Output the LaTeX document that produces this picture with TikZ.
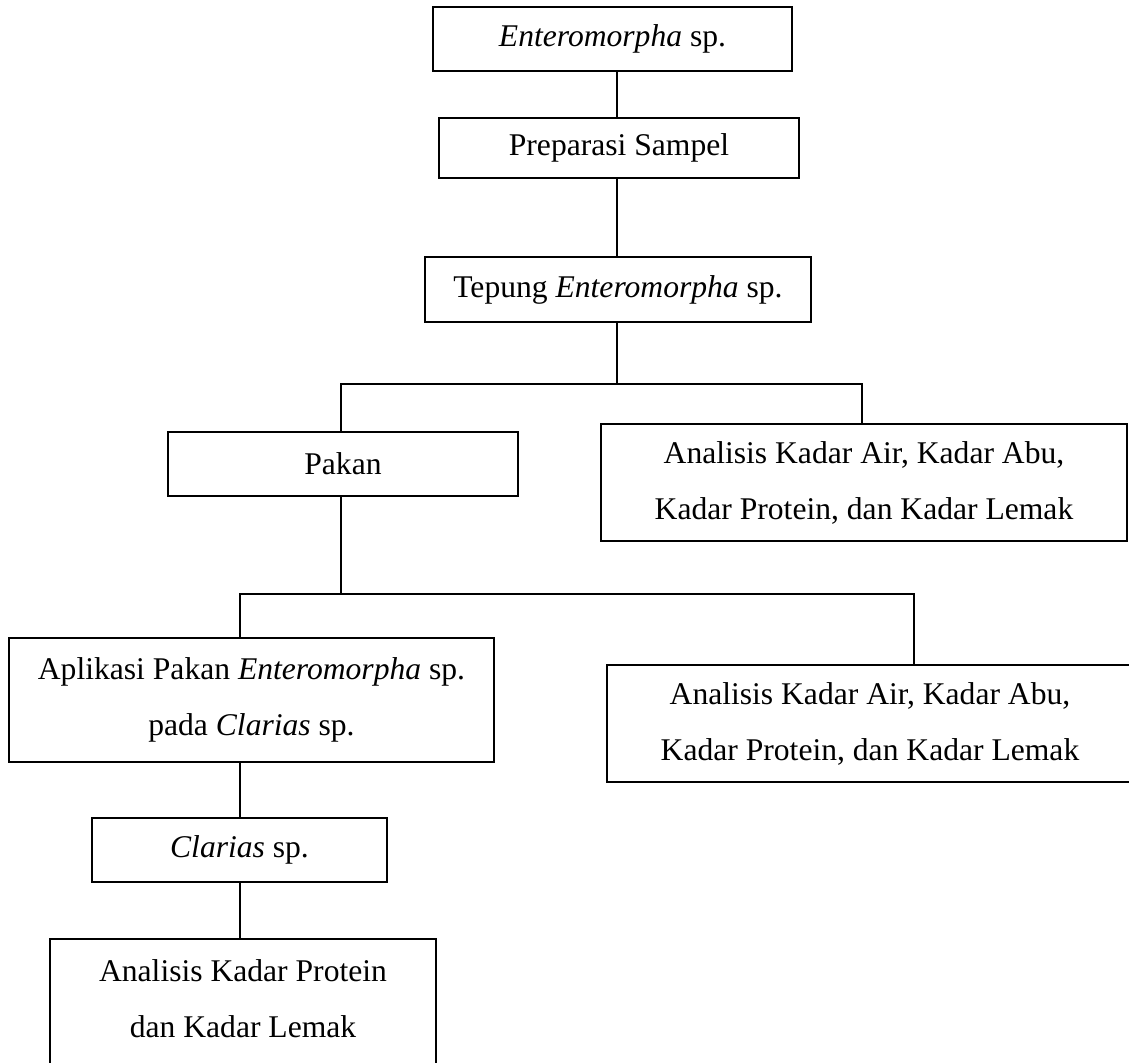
\documentclass[tikz,border=0pt]{standalone}
\usepackage{fontspec}
\setmainfont{Liberation Serif}
\begin{document}
\begin{tikzpicture}[x=0.5pt,y=-0.5pt,
  box/.style={draw=black,line width=0.9pt,rectangle,inner sep=0pt,align=center,
    font=\fontsize{15.8pt}{28pt}\selectfont},
  conn/.style={draw=black,line width=0.9pt}]
\useasboundingbox (0,0) rectangle (1129,1062);
\node[box,minimum width=179.5pt,minimum height=32pt] (b1) at (612.5,39) {\textit{Enteromorpha} sp.};
\node[box,minimum width=180pt,minimum height=30pt] (b2) at (619,148) {Preparasi Sampel};
\node[box,minimum width=193pt,minimum height=32.5pt] (b3) at (618,289.5) {Tepung \textit{Enteromorpha} sp.};
\node[box,minimum width=175pt,minimum height=32pt] (pakan) at (343,464) {Pakan};
\node[box,minimum width=263pt,minimum height=58.5pt] (an1) at (864,482.5) {Analisis Kadar Air, Kadar Abu,\\Kadar Protein, dan Kadar Lemak};
\node[box,minimum width=242.5pt,minimum height=62pt] (apl) at (251.5,700) {Aplikasi Pakan \textit{Enteromorpha} sp.\\pada \textit{Clarias} sp.};
\node[box,minimum width=263pt,minimum height=58.5pt] (an2) at (870,723.5) {Analisis Kadar Air, Kadar Abu,\\Kadar Protein, dan Kadar Lemak};
\node[box,minimum width=147.5pt,minimum height=32pt] (clar) at (239.5,850) {\textit{Clarias} sp.};
\node[box,minimum width=193pt,minimum height=64pt,text depth=4pt] (last) at (243,1003) {Analisis Kadar Protein\\dan Kadar Lemak};
\coordinate (j1) at (617,384);
\coordinate (jl1) at (341,384);
\coordinate (jr1) at (862,384);
\coordinate (j2) at (341,594);
\coordinate (jl2) at (240,594);
\coordinate (jr2) at (914,594);
\draw[conn] (b1.south -| j1) -- (b2.north -| j1);
\draw[conn] (b2.south -| j1) -- (b3.north -| j1);
\draw[conn] (b3.south -| j1) -- (j1);
\draw[conn] (pakan.north -| jl1) -- (jl1) -- (jr1) -- (an1.north -| jr1);
\draw[conn] (pakan.south -| j2) -- (j2);
\draw[conn] (apl.north -| jl2) -- (jl2) -- (jr2) -- (an2.north -| jr2);
\draw[conn] (apl.south -| jl2) -- (clar.north -| jl2);
\draw[conn] (clar.south -| jl2) -- (last.north -| jl2);
\end{tikzpicture}
\end{document}
